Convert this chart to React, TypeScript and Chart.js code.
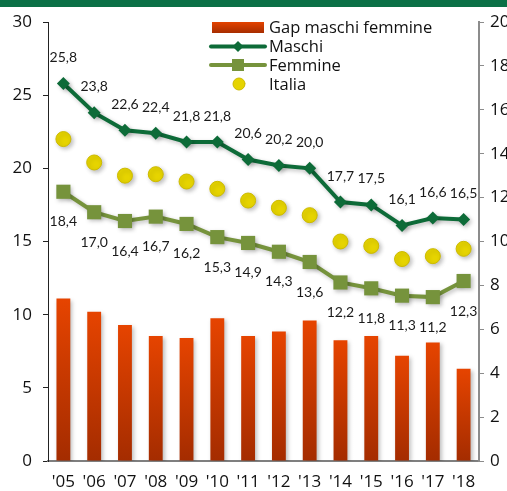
import { useEffect, useRef } from 'react';
import { Chart, registerables } from 'chart.js';

Chart.register(...registerables);

const years = ["'05", "'06", "'07", "'08", "'09", "'10", "'11", "'12", "'13", "'14", "'15", "'16", "'17", "'18"];
const gapValues = [7.4, 6.8, 6.2, 5.7, 5.6, 6.5, 5.7, 5.9, 6.4, 5.5, 5.7, 4.8, 5.4, 4.2];
const maschiValues = [25.8, 23.8, 22.6, 22.4, 21.8, 21.8, 20.6, 20.2, 20.0, 17.7, 17.5, 16.1, 16.6, 16.5];
const femmineValues = [18.4, 17.0, 16.4, 16.7, 16.2, 15.3, 14.9, 14.3, 13.6, 12.2, 11.8, 11.3, 11.2, 12.3];
const italiaValues = [22.0, 20.4, 19.5, 19.6, 19.1, 18.6, 17.8, 17.3, 16.8, 15.0, 14.7, 13.8, 14.0, 14.5];
const legendLabels = ['Gap maschi femmine', 'Maschi', 'Femmine', 'Italia'];

const FONT = '"Open Sans", "DejaVu Sans", sans-serif';
const LABEL_FONT = 'Lato, "Open Sans", sans-serif';
const GREEN_DARK = '#0d6b38';
const GREEN_OLIVE = '#76933c';
const YELLOW = '#e6d400';
const YELLOW_EDGE = '#cdbb00';
const BAR_TOP = '#e64400';
const BAR_BOTTOM = '#a42c00';

const fmt = (v: number) => v.toFixed(1).replace('.', ',');

const backgroundPlugin = {
  id: 'bgBand',
  beforeDraw(chart: any) {
    const { ctx, width } = chart;
    ctx.save();
    ctx.fillStyle = '#ffffff';
    ctx.fillRect(0, 0, width, chart.height);
    ctx.fillStyle = '#0b7046';
    ctx.fillRect(0, 0, width, 7);
    ctx.restore();
  },
};

const shadowPlugin = {
  id: 'shadows',
  beforeDatasetDraw(chart: any) {
    const ctx = chart.ctx;
    ctx.save();
    ctx.shadowColor = 'rgba(0,0,0,0.25)';
    ctx.shadowBlur = 4;
    ctx.shadowOffsetX = 2;
    ctx.shadowOffsetY = 2;
  },
  afterDatasetDraw(chart: any) {
    chart.ctx.restore();
  },
};

const labelsPlugin = {
  id: 'valueLabels',
  afterDatasetsDraw(chart: any) {
    const ctx = chart.ctx;
    ctx.save();
    ctx.font = `14px ${LABEL_FONT}`;
    ctx.fillStyle = '#1a1a1a';
    ctx.textAlign = 'center';
    ctx.textBaseline = 'middle';
    const mMeta = chart.getDatasetMeta(1);
    mMeta.data.forEach((pt: any, i: number) => {
      ctx.fillText(fmt(maschiValues[i]), pt.x, pt.y - 26);
    });
    const fMeta = chart.getDatasetMeta(2);
    fMeta.data.forEach((pt: any, i: number) => {
      ctx.fillText(fmt(femmineValues[i]), pt.x, pt.y + 30);
    });
    ctx.restore();
  },
};

const legendPlugin = {
  id: 'customLegend',
  afterDraw(chart: any) {
    const ctx = chart.ctx;
    ctx.save();
    const lx0 = 211;
    const lx1 = 265;
    const mid = (lx0 + lx1) / 2;
    const tx = 269;
    const rows = [27.5, 46.5, 65, 84];
    const g = ctx.createLinearGradient(0, rows[0] - 6, 0, rows[0] + 6);
    g.addColorStop(0, BAR_TOP);
    g.addColorStop(1, BAR_BOTTOM);
    ctx.fillStyle = g;
    ctx.fillRect(212, rows[0] - 5.5, 52, 11);
    ctx.lineCap = 'round';
    ctx.strokeStyle = GREEN_DARK;
    ctx.lineWidth = 4;
    ctx.beginPath();
    ctx.moveTo(lx0, rows[1]);
    ctx.lineTo(lx1, rows[1]);
    ctx.stroke();
    ctx.fillStyle = GREEN_DARK;
    ctx.beginPath();
    ctx.moveTo(mid, rows[1] - 5.5);
    ctx.lineTo(mid + 5.5, rows[1]);
    ctx.lineTo(mid, rows[1] + 5.5);
    ctx.lineTo(mid - 5.5, rows[1]);
    ctx.closePath();
    ctx.fill();
    ctx.strokeStyle = GREEN_OLIVE;
    ctx.beginPath();
    ctx.moveTo(lx0, rows[2]);
    ctx.lineTo(lx1, rows[2]);
    ctx.stroke();
    ctx.fillStyle = GREEN_OLIVE;
    ctx.fillRect(mid - 6, rows[2] - 6, 12, 12);
    ctx.fillStyle = YELLOW;
    ctx.strokeStyle = YELLOW_EDGE;
    ctx.lineWidth = 1;
    ctx.beginPath();
    ctx.arc(mid + 1, rows[3], 6, 0, Math.PI * 2);
    ctx.fill();
    ctx.stroke();
    ctx.font = `16.5px ${FONT}`;
    ctx.fillStyle = '#111';
    ctx.textAlign = 'left';
    ctx.textBaseline = 'middle';
    legendLabels.forEach((t, i) => ctx.fillText(t, tx, rows[i] + 1));
    ctx.restore();
  },
};

export default function App() {
  const canvasRef = useRef<HTMLCanvasElement | null>(null);

  useEffect(() => {
    if (!canvasRef.current) return;
    const tickFont = { family: FONT, size: 17 };
    const chart = new Chart(canvasRef.current, {
      type: 'bar',
      data: {
        labels: years,
        datasets: [
          {
            type: 'bar',
            label: legendLabels[0],
            data: gapValues,
            yAxisID: 'y1',
            order: 10,
            barPercentage: 0.45,
            categoryPercentage: 1,
            backgroundColor: (c: any) => {
              const chart = c.chart;
              const { ctx, chartArea, scales } = chart;
              if (!chartArea || c.raw == null || !scales.y1) return BAR_TOP;
              const top = scales.y1.getPixelForValue(c.raw);
              const bottom = scales.y1.getPixelForValue(0);
              const g = ctx.createLinearGradient(0, top, 0, bottom);
              g.addColorStop(0, BAR_TOP);
              g.addColorStop(1, BAR_BOTTOM);
              return g;
            },
          } as any,
          {
            type: 'line',
            label: legendLabels[1],
            data: maschiValues,
            yAxisID: 'y',
            order: 1,
            borderColor: GREEN_DARK,
            backgroundColor: GREEN_DARK,
            borderWidth: 4,
            pointStyle: 'rectRot',
            pointRadius: 6.5,
            pointBorderWidth: 0,
            pointBackgroundColor: GREEN_DARK,
            tension: 0,
          },
          {
            type: 'line',
            label: legendLabels[2],
            data: femmineValues,
            yAxisID: 'y',
            order: 2,
            borderColor: GREEN_OLIVE,
            backgroundColor: GREEN_OLIVE,
            borderWidth: 4,
            pointStyle: 'rect',
            pointRadius: 10,
            pointBorderWidth: 0,
            pointBackgroundColor: GREEN_OLIVE,
            tension: 0,
          },
          {
            type: 'line',
            label: legendLabels[3],
            data: italiaValues,
            yAxisID: 'y',
            order: 3,
            showLine: false,
            pointStyle: 'circle',
            pointRadius: 7.5,
            pointBorderWidth: 1,
            pointBorderColor: YELLOW_EDGE,
            pointBackgroundColor: YELLOW,
            borderColor: YELLOW_EDGE,
            backgroundColor: YELLOW,
          },
        ],
      },
      options: {
        responsive: false,
        animation: false,
        events: [],
        layout: { padding: { top: 22, left: 0, right: 0, bottom: 0 } },
        plugins: {
          legend: { display: false },
          tooltip: { enabled: false },
        },
        scales: {
          x: {
            offset: true,
            grid: { display: false, drawTicks: false },
            border: { display: true, color: '#7f7f7f', width: 2 },
            ticks: { font: tickFont, color: '#111', padding: 11, autoSkip: false, maxRotation: 0 },
            afterFit(s: any) {
              s.height = 30;
            },
          },
          y: {
            position: 'left',
            min: 0,
            max: 30,
            ticks: { stepSize: 5, font: tickFont, color: '#111', padding: 11 },
            grid: { drawOnChartArea: false, drawTicks: true, tickLength: 5, color: '#222' },
            border: { display: true, color: '#222', width: 1 },
            afterFit(s: any) {
              s.width = 48;
            },
          },
          y1: {
            position: 'right',
            min: 0,
            max: 20,
            ticks: { stepSize: 2, font: tickFont, color: '#111', padding: 6 },
            grid: { drawOnChartArea: false, drawTicks: true, tickLength: 5, color: '#8c8c8c' },
            border: { display: true, color: '#8c8c8c', width: 2 },
            afterFit(s: any) {
              s.width = 28;
            },
          },
        },
      } as any,
      plugins: [backgroundPlugin, shadowPlugin, labelsPlugin, legendPlugin],
    });
    return () => chart.destroy();
  }, []);

  return (
    <div style={{ position: 'fixed', left: 0, top: 0, width: 507, height: 491, background: '#fff' }}>
      <canvas ref={canvasRef} width={507} height={491} style={{ display: 'block', width: 507, height: 491 }} />
    </div>
  );
}
